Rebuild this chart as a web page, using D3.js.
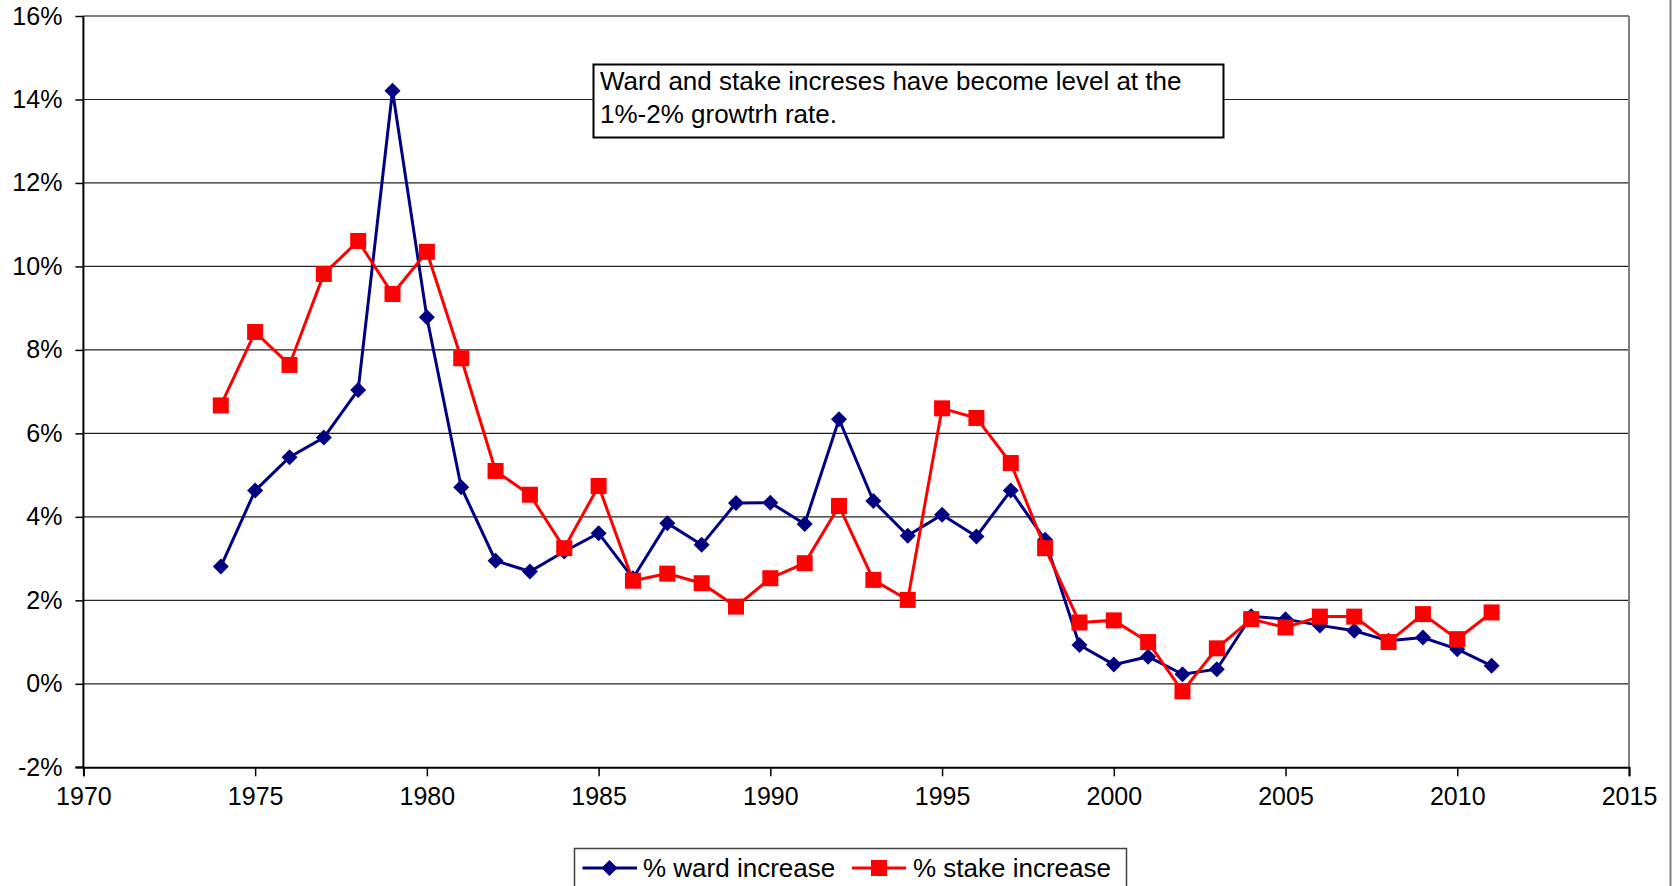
<!DOCTYPE html>
<html>
<head>
<meta charset="utf-8">
<script src="https://cdn.jsdelivr.net/npm/d3@7/dist/d3.min.js"></script>
<style>
  html, body { margin: 0; padding: 0; background: #fff; }
  svg { display: block; font-family: "Liberation Sans", Arial, sans-serif; }
</style>
</head>
<body>
<svg id="chart" width="1672" height="886"></svg>
<script>
const years = [1974,1975,1976,1977,1978,1979,1980,1981,1982,1983,1984,1985,1986,1987,1988,1989,1990,1991,1992,1993,1994,1995,1996,1997,1998,1999,2000,2001,2002,2003,2004,2005,2006,2007,2008,2009,2010,2011];
const wardIncrease = [2.81,4.63,5.43,5.90,7.04,14.21,8.78,4.71,2.95,2.69,3.17,3.61,2.53,3.85,3.33,4.33,4.34,3.83,6.34,4.38,3.55,4.05,3.53,4.63,3.45,0.93,0.46,0.65,0.23,0.35,1.62,1.55,1.40,1.27,1.03,1.11,0.83,0.43];
const stakeIncrease = [6.67,8.43,7.64,9.82,10.61,9.34,10.35,7.80,5.10,4.53,3.25,4.74,2.47,2.64,2.41,1.85,2.53,2.89,4.26,2.49,2.01,6.60,6.37,5.29,3.25,1.47,1.52,1.00,-0.18,0.85,1.55,1.35,1.61,1.61,1.00,1.67,1.07,1.71];
const xTicks = [1970,1975,1980,1985,1990,1995,2000,2005,2010,2015];
const yTicks = [-2,0,2,4,6,8,10,12,14,16];
const seriesNames = ["% ward increase", "% stake increase"];
const noteLines = ["Ward and stake increses have become level at the", "1%-2% growtrh rate."];

const svg = d3.select("#chart");
const L = 83.4, R = 1629, T = 16, B = 767.3;
const x = d3.scaleLinear().domain([1970, 2015]).range([L, R]);
const y = d3.scaleLinear().domain([-2, 16]).range([B, T]);
const fmtPct = d3.formatLocale({decimal: ".", thousands: ",", grouping: [3], currency: ["$", ""], minus: "-"}).format("d");

svg.append("rect").attr("width", 1672).attr("height", 886).attr("fill", "#fff");

// outer chart border (right edge)
svg.append("line").attr("x1", 1670.5).attr("x2", 1670.5).attr("y1", 0).attr("y2", 886)
  .attr("stroke", "#808080").attr("stroke-width", 2);

// gridlines
svg.append("g").selectAll("line").data(yTicks.filter(v => v > -2 && v < 16)).join("line")
  .attr("x1", L).attr("x2", R).attr("y1", d => y(d)).attr("y2", d => y(d))
  .attr("stroke", "#222").attr("stroke-width", 1.2);

// plot area border top / right
svg.append("line").attr("x1", L).attr("x2", R).attr("y1", y(16)).attr("y2", y(16))
  .attr("stroke", "#808080").attr("stroke-width", 2);
svg.append("line").attr("x1", R).attr("x2", R).attr("y1", T).attr("y2", B)
  .attr("stroke", "#808080").attr("stroke-width", 2);

// axes
const yAxis = svg.append("g").attr("transform", `translate(${L},0)`)
  .call(d3.axisLeft(y).tickValues(yTicks).tickSize(8).tickPadding(13).tickFormat(d => fmtPct(d) + "%"));
const xAxis = svg.append("g").attr("transform", `translate(0,${B})`)
  .call(d3.axisBottom(x).tickValues(xTicks).tickSize(9).tickPadding(11).tickFormat(d3.format("d")));
[yAxis, xAxis].forEach(g => {
  g.select(".domain").attr("stroke", "#000").attr("stroke-width", 2);
  g.selectAll(".tick line").attr("stroke", "#000").attr("stroke-width", 1.5);
  g.selectAll(".tick text").attr("fill", "#000").attr("font-size", 25)
    .attr("font-family", "'Liberation Sans', Arial, sans-serif");
});
yAxis.select(".domain").attr("d", `M-8,${y(-2)}H0V${y(16)}`);
xAxis.selectAll(".tick text").attr("dy", "0.71em");

// annotation box
const note = svg.append("g");
note.append("rect").attr("x", 593.5).attr("y", 64.5).attr("width", 630).attr("height", 73)
  .attr("fill", "#fff").attr("stroke", "#000").attr("stroke-width", 2);
note.selectAll("text").data(noteLines).join("text")
  .attr("x", 600).attr("y", (d, i) => 90 + i * 33)
  .attr("font-size", 26).attr("fill", "#000").text(d => d);

// series
const line = d3.line().x(d => x(d[0])).y(d => y(d[1]));
const wardData = years.map((yr, i) => [yr, wardIncrease[i]]);
const stakeData = years.map((yr, i) => [yr, stakeIncrease[i]]);
const diamond = "M0,-8L8,0L0,8L-8,0Z";
const sq = 16;

svg.append("path").datum(wardData).attr("d", line).attr("fill", "none")
  .attr("stroke", "#000080").attr("stroke-width", 3);
svg.append("g").selectAll("path").data(wardData).join("path")
  .attr("d", diamond).attr("transform", d => `translate(${x(d[0])},${y(d[1])})`).attr("fill", "#000080");

svg.append("path").datum(stakeData).attr("d", line).attr("fill", "none")
  .attr("stroke", "#ff0000").attr("stroke-width", 3);
svg.append("g").selectAll("rect").data(stakeData).join("rect")
  .attr("x", d => x(d[0]) - sq / 2).attr("y", d => y(d[1]) - sq / 2)
  .attr("width", sq).attr("height", sq).attr("fill", "#ff0000");

// legend
const lg = svg.append("g");
lg.append("rect").attr("x", 574.5).attr("y", 848.5).attr("width", 552).attr("height", 60)
  .attr("fill", "#fff").attr("stroke", "#404040").attr("stroke-width", 1.5);
const ly = 868;
lg.append("line").attr("x1", 582.5).attr("x2", 637).attr("y1", ly).attr("y2", ly)
  .attr("stroke", "#000080").attr("stroke-width", 3);
lg.append("path").attr("d", diamond).attr("transform", `translate(609.5,${ly})`).attr("fill", "#000080");
lg.append("text").attr("x", 643).attr("y", ly + 9).attr("font-size", 26).text(seriesNames[0]);
lg.append("line").attr("x1", 852).attr("x2", 906).attr("y1", ly).attr("y2", ly)
  .attr("stroke", "#ff0000").attr("stroke-width", 3);
lg.append("rect").attr("x", 879 - sq / 2).attr("y", ly - sq / 2).attr("width", sq).attr("height", sq).attr("fill", "#ff0000");
lg.append("text").attr("x", 913).attr("y", ly + 9).attr("font-size", 26).text(seriesNames[1]);
</script>
</body>
</html>
